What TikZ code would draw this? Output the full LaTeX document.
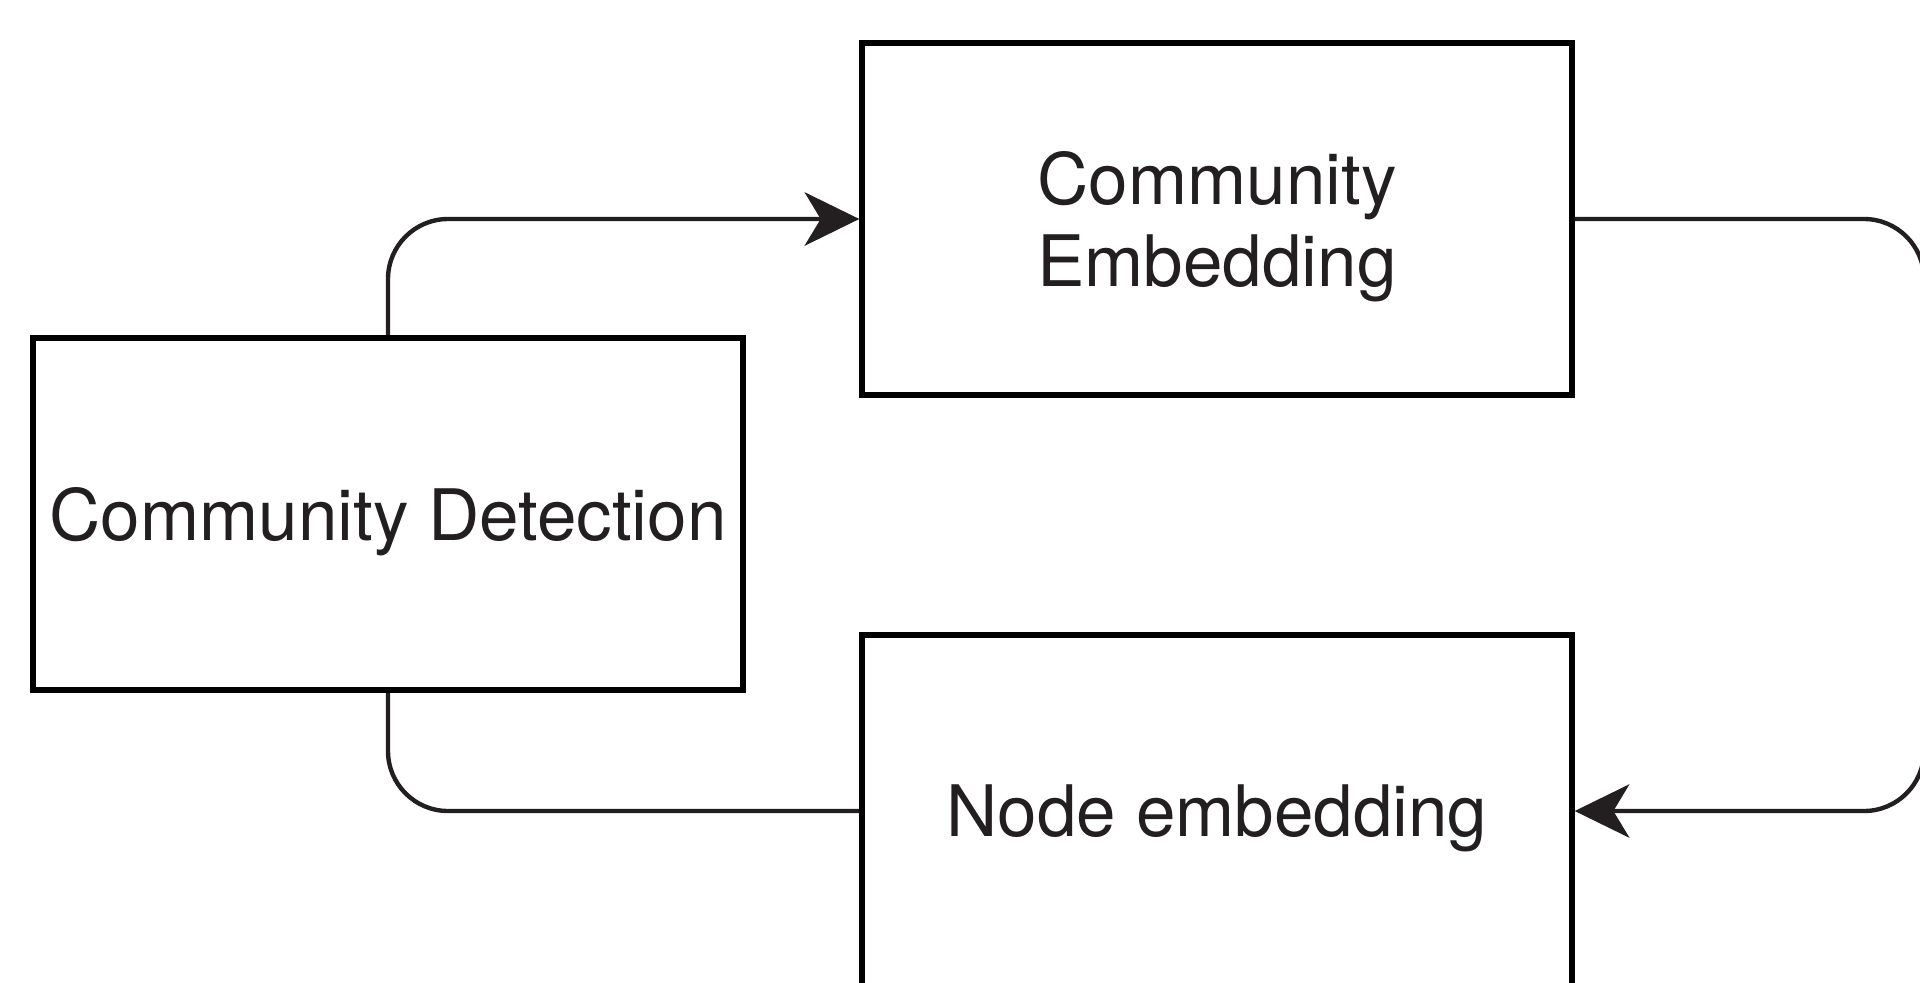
\documentclass[tikz,border=0pt]{standalone}
\usepackage{fontspec}
\setmainfont{TeX Gyre Heros}
\usetikzlibrary{arrows.meta}
\definecolor{ink}{HTML}{231F20}
\begin{document}
\begin{tikzpicture}[x=0.75pt,y=-0.75pt,
  stagebox/.style={draw=black,line width=4.5pt,minimum width=532pt,minimum height=264pt,
    inner sep=0pt,align=center,text=ink,text depth=0pt,
    font=\fontsize{53.25}{61}\selectfont},
  conn/.style={draw=ink,line width=3.3pt,rounded corners=45pt},
  tip/.style={-{Stealth[length=41pt,width=40pt,inset=12pt]}}]
  \useasboundingbox (0,0) rectangle (1920,982);
  \clip (0,0) rectangle (1920,982);
  % the three stages
  \node[stagebox] (cd) at (388,514) {Community Detection};
  \node[stagebox] (ce) at (1217,219) {Community\\Embedding};
  \node[stagebox] (ne) at (1217,811) {Node embedding};
  % loop back along the right side
  \coordinate (rt) at (1924,515);
  % connectors
  \draw[conn,tip] (cd.north) |- (ce.west);
  \draw[conn,tip] (ce.east) -| (rt) |- (ne.east);
  \draw[conn] (cd.south) |- (ne.west);
\end{tikzpicture}
\end{document}
